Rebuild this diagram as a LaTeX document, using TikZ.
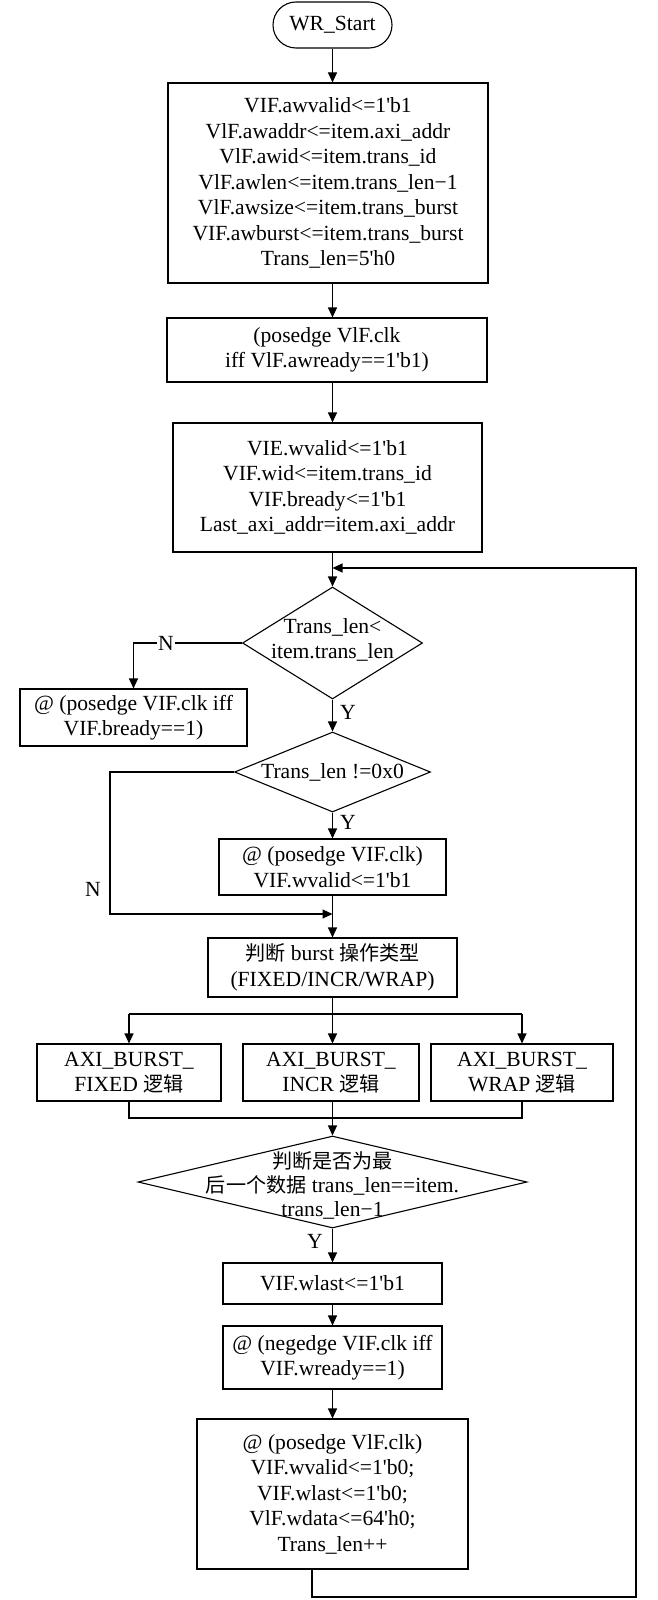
\documentclass[tikz,border=0pt]{standalone}
\usepackage{fontspec}
\setmainfont{Liberation Serif}
\newfontfamily\cjk{Noto Sans CJK SC}[Scale=0.93]
\usetikzlibrary{arrows.meta,shapes.geometric,calc}
\newcommand\q{\textquotesingle}
\tikzset{
  base/.style={draw, line width=1.1pt, inner sep=0pt, align=center, font=\fontsize{21.6}{25.5}\selectfont},
  stepbox/.style={base, rectangle},
  startbox/.style={base, rectangle, rounded corners=23pt},
  dia/.style={draw, line width=1.1pt, diamond, inner sep=0pt},
  txt/.style={inner sep=0pt, align=center, font=\fontsize{21.6}{25.5}\selectfont},
  lab/.style={inner sep=1pt, font=\fontsize{21.6}{25}\selectfont},
  line/.style={line width=1.1pt},
  arr/.style={line width=1.1pt, -{Triangle[length=10pt,width=9pt]}}
}
\begin{document}
\begin{tikzpicture}[x=1pt,y=-1pt]
\useasboundingbox (0,0) rectangle (657,1600);
\coordinate (sp) at (332.5,0);
% nodes
\node[startbox, minimum width=119pt, minimum height=46pt] (st) at (332.5,25) {WR\_Start};
\node[stepbox, minimum width=320pt, minimum height=200pt] (b1) at (328,183) {VIF.awvalid<=1\q b1\\VlF.awaddr<=item.axi\_addr\\VlF.awid<=item.trans\_id\\VlF.awlen<=item.trans\_len−1\\VlF.awsize<=item.trans\_burst\\VIF.awburst<=item.trans\_burst\\Trans\_len=5\q h0};
\node[stepbox, minimum width=320pt, minimum height=64pt] (b2) at (327,350) {(posedge VlF.clk\\iff VlF.awready==1\q b1)};
\node[stepbox, minimum width=309pt, minimum height=129pt] (b3) at (327.5,487.5) {VIE.wvalid<=1\q b1\\VIF.wid<=item.trans\_id\\VIF.bready<=1\q b1\\Last\_axi\_addr=item.axi\_addr};
\node[dia, minimum width=180pt, minimum height=112pt] (d1) at (332.5,643) {};
\node[txt] (d1t) at (332.5,640) {Trans\_len<\\item.trans\_len};
\node[stepbox, minimum width=227pt, minimum height=57pt] (lb) at (133.5,717.5) {@ (posedge VIF.clk iff\\VIF.bready==1)};
\node[dia, minimum width=196pt, minimum height=80pt] (d2) at (332.5,772) {};
\node[txt] (d2t) at (332.5,772) {Trans\_len !=0x0};
\node[stepbox, minimum width=227pt, minimum height=56pt] (wv) at (332.5,867) {@ (posedge VIF.clk)\\VIF.wvalid<=1\q b1};
\node[stepbox, minimum width=249pt, minimum height=59pt] (bu) at (332.5,967.5) {{\cjk 判断} burst {\cjk 操作类型}\\(FIXED/INCR/WRAP)};
\node[stepbox, minimum width=184pt, minimum height=57pt] (fx) at (129,1072.5) {AXI\_BURST\_\\FIXED {\cjk 逻辑}};
\node[stepbox, minimum width=176pt, minimum height=57pt] (in) at (331,1072.5) {AXI\_BURST\_\\INCR {\cjk 逻辑}};
\node[stepbox, minimum width=182pt, minimum height=57pt] (wr) at (522,1072.5) {AXI\_BURST\_\\WRAP {\cjk 逻辑}};
\node[dia, minimum width=389pt, minimum height=92pt] (d3) at (332.5,1182) {};
\node[txt, font=\fontsize{21.6}{24}\selectfont] (d3t) at (332.5,1185) {{\cjk 判断是否为最}\\{\cjk 后一个数据} trans\_len==item.\\trans\_len−1};
\node[stepbox, minimum width=219pt, minimum height=41pt] (wl) at (332.5,1283.5) {VIF.wlast<=1\q b1};
\node[stepbox, minimum width=219pt, minimum height=63pt] (ng) at (332.5,1357.5) {@ (negedge VIF.clk iff\\VIF.wready==1)};
\node[stepbox, minimum width=271pt, minimum height=150pt] (fn) at (332.5,1494) {@ (posedge VlF.clk)\\VIF.wvalid<=1\q b0;\\VIF.wlast<=1\q b0;\\VlF.wdata<=64\q h0;\\Trans\_len++};
% helper coordinates
\coordinate (lp) at (312,1597);
\coordinate (rp) at (636,568);
\coordinate (nx) at (110,914);
\coordinate (br) at (0,1014);
\coordinate (mg) at (0,1118);
% connectors
\draw[arr] (st.south) -- (st.south |- b1.north);
\draw[arr] (sp |- b1.south) -- (sp |- b2.north);
\draw[arr] (sp |- b2.south) -- (sp |- b3.north);
\draw[arr] (sp |- b3.south) -- (d1.north);
\draw[arr] (fn.south -| lp) -- (lp) -| (rp) -- (rp -| sp);
\draw[arr] (d1.west) -| (lb.north);
\node[lab, fill=white] (n1) at (166,643) {N};
\draw[arr] (d1.south) -- (d2.north);
\node[lab] (y1) at (348,712) {Y};
\draw[arr] (d2.south) -- (wv.north);
\node[lab] (y2) at (348,822) {Y};
\draw[arr] (d2.west) -| (nx) -- (nx -| sp);
\node[lab] (n2) at (93,889) {N};
\draw[arr] (wv.south) -- (bu.north);
\draw[line] (fx.north |- br) -- (wr.north |- br);
\draw[arr] (fx.north |- br) -- (fx.north);
\draw[arr] (wr.north |- br) -- (wr.north);
\draw[arr] (bu.south) -- (bu.south |- in.north);
\draw[line] (fx.south) -- (fx.south |- mg) -- (wr.south |- mg) -- (wr.south);
\draw[arr] (in.south -| d3.north) -- (d3.north);
\draw[arr] (d3.south) -- (wl.north);
\node[lab] (y3) at (315,1241) {Y};
\draw[arr] (wl.south) -- (ng.north);
\draw[arr] (ng.south) -- (fn.north);
\end{tikzpicture}
\end{document}
